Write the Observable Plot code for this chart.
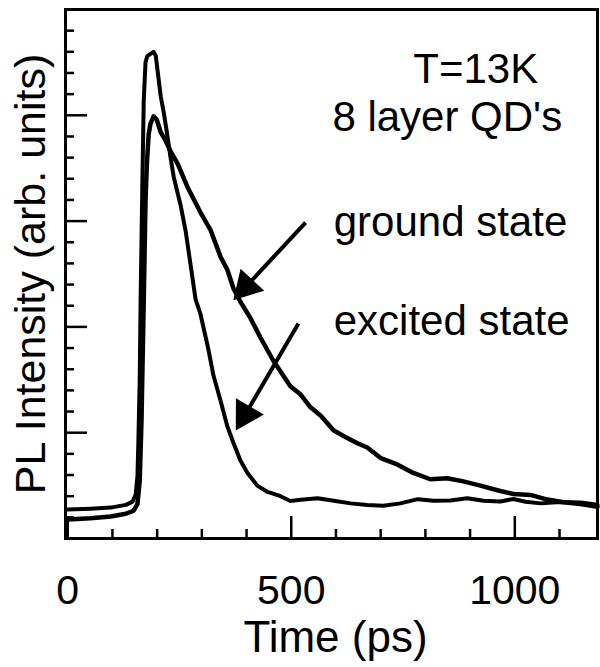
<!DOCTYPE html>
<html><head><meta charset="utf-8">
<script src="https://cdn.jsdelivr.net/npm/d3@7"></script>
<script src="https://cdn.jsdelivr.net/npm/@observablehq/plot@0.6"></script>
<style>html,body{margin:0;padding:0;background:#fff}svg{display:block}</style>
</head><body><div id="chart"></div>
<script>
// Ground state PL transient (time in ps, intensity in arb. units)
const groundT = [0,51,96,130,147,156,161,165,170,174,177,181,185,192,199,208,219,230,246,268,290,297,319,342,357,371,386,409,431,460,498,521,543,566,595,621,648,670,700,737,773,811,849,885,923,961,997,1035,1073,1109,1147,1185];
const groundI = [0.9,0.96,1.04,1.17,1.31,1.64,2.73,5.57,11.24,15.97,17.7,19.1,19.6,19.95,19.8,19.2,18.8,18.3,17.7,16.6,15.7,15.4,14.6,13.3,12.7,11.8,11.2,10.4,9.5,8.4,7.2,6.8,6.2,5.8,5.1,4.8,4.5,4.3,3.8,3.5,3.1,2.8,2.85,2.7,2.5,2.28,2.1,2.06,1.84,1.71,1.63,1.5];
// Excited state PL transient
const excitedT = [0,51,96,130,145,152,156,158,161,163,167,170,174,178,185,192,197,201,208,215,221,230,237,253,264,286,297,313,326,342,357,371,386,402,424,447,476,498,521,559,595,633,670,706,744,783,818,856,894,930,968,997,1024,1058,1102,1147,1185];
const excitedI = [1.37,1.41,1.46,1.59,1.74,2.07,2.97,4.6,7.5,11.25,16.9,20.7,22.5,22.8,22.9,23.0,22.8,22.1,20.9,20.1,19.3,18.0,17.1,15.7,14.5,11.3,10.6,9.1,7.7,6.5,5.3,4.5,3.7,3.1,2.5,2.2,2.0,1.77,1.83,1.9,1.78,1.66,1.58,1.55,1.66,1.86,1.78,1.8,1.9,1.78,1.75,1.87,1.74,1.66,1.72,1.7,1.6];

const xMajorTicks = [0, 500, 1000];
const xMinorTicks = [100, 200, 300, 400, 600, 700, 800, 900, 1100];
const yMajorTicks = [5, 10, 15, 20];
const yMinorTicks = [1,2,3,4,6,7,8,9,11,12,13,14,16,17,18,19,21,22,23,24];

const xLabel = "Time (ps)";
const yLabel = "PL Intensity (arb. units)";

const noteText = ["T=13K", "8 layer QD's", "ground state", "excited state"];
const noteT = [773, 592, 595, 595];
const noteI = [21.55, 19.25, 14.3, 9.6];

const arrowT1 = [532, 516];
const arrowI1 = [14.93, 10.16];
const arrowT2 = [376, 380];
const arrowI2 = [11.39, 5.25];

const W = 600, H = 667, mL = 65, mR = 3, mT = 9, mB = 129;
const xDom = [-5, 1185], yDom = [0, 25];
const kx = (W - mL - mR) / (xDom[1] - xDom[0]);
const ky = (H - mT - mB) / (yDom[1] - yDom[0]);

const ground = groundT.map((t, i) => ({t, I: groundI[i]}));
const excited = excitedT.map((t, i) => ({t, I: excitedI[i]}));
const notes = noteText.map((text, i) => ({text, t: noteT[i], I: noteI[i]}));
const back = 15;
const arrows = arrowT1.map((_, i) => {
  const dx = kx * (arrowT2[i] - arrowT1[i]);
  const dy = -ky * (arrowI2[i] - arrowI1[i]);
  const len = Math.hypot(dx, dy);
  return {
    t1: arrowT1[i], I1: arrowI1[i],
    tc: arrowT2[i] - (dx / len * back) / kx,
    Ic: arrowI2[i] + (dy / len * back) / ky,
    angle: Math.atan2(dx, -dy) * 180 / Math.PI
  };
});

const font = "'Liberation Sans', Arial, Helvetica, sans-serif";
const plot = Plot.plot({
  width: W, height: H,
  marginLeft: mL, marginRight: mR, marginTop: mT, marginBottom: mB,
  style: {fontFamily: font, background: "#fff", color: "#000", overflow: "visible"},
  x: {domain: xDom, label: null},
  y: {domain: yDom, label: null},
  marks: [
    Plot.axisX({ticks: xMinorTicks, tickSize: -9, tickFormat: () => "", strokeWidth: 2.5, label: null}),
    Plot.axisX({ticks: xMajorTicks, tickSize: -22, tickFormat: () => "", strokeWidth: 2.5, label: null}),
    Plot.axisX({ticks: xMajorTicks, tickSize: 0, tickPadding: 36, fontSize: 41, tickFormat: d => String(d), label: null}),
    Plot.axisY({ticks: yMinorTicks, tickSize: -9, tickFormat: () => "", strokeWidth: 2.5, label: null}),
    Plot.axisY({ticks: yMajorTicks, tickSize: -22, tickFormat: () => "", strokeWidth: 2.5, label: null}),
    Plot.frame({stroke: "#000", strokeWidth: 3}),
    Plot.line(excited, {x: "t", y: "I", stroke: "#000", strokeWidth: 4, strokeLinejoin: "round"}),
    Plot.line(ground, {x: "t", y: "I", stroke: "#000", strokeWidth: 4.5, strokeLinejoin: "round"}),
    Plot.link(arrows, {x1: "t1", y1: "I1", x2: "tc", y2: "Ic", stroke: "#000", strokeWidth: 4}),
    Plot.dot(arrows, {x: "tc", y: "Ic", symbol: "triangle", r: 12, rotate: "angle", fill: "#000", stroke: "none"}),
    Plot.text(notes, {x: "t", y: "I", text: "text", textAnchor: "start", lineAnchor: "bottom", fontSize: 42, fill: "#000"}),
    Plot.text([xLabel], {text: d => d, frameAnchor: "bottom", textAnchor: "middle", dx: 4, dy: 82, lineAnchor: "top", fontSize: 44, fill: "#000"}),
    Plot.text([yLabel], {text: d => d, frameAnchor: "left", textAnchor: "middle", rotate: -90, dx: -34, lineAnchor: "middle", fontSize: 43, fill: "#000"})
  ]
});
document.getElementById("chart").append(plot);
</script>
</body></html>
